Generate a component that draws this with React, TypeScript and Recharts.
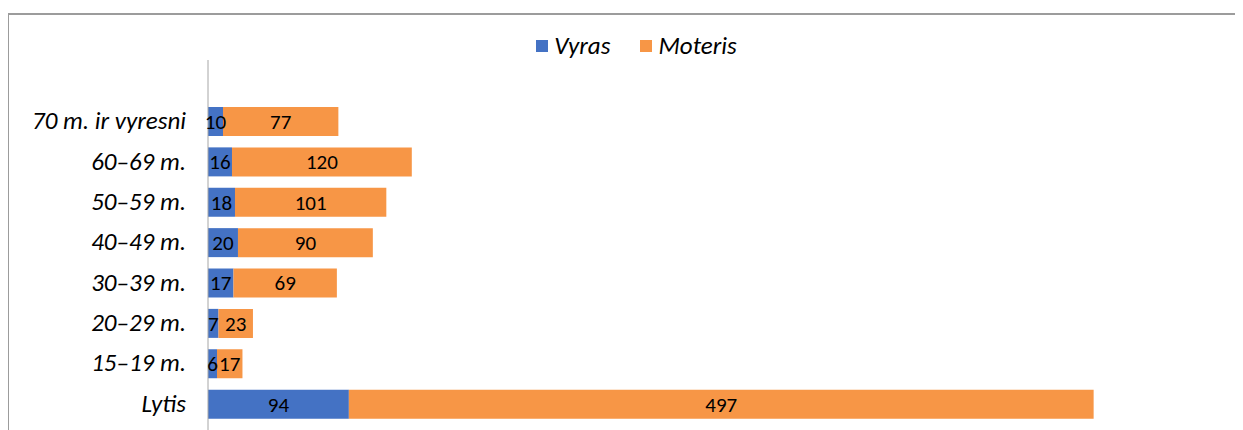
import { BarChart, Bar, XAxis, YAxis, LabelList } from 'recharts';

const categories = ['70 m. ir vyresni', '60–69 m.', '50–59 m.', '40–49 m.', '30–39 m.', '20–29 m.', '15–19 m.', 'Lytis'];
const vyras = [10, 16, 18, 20, 17, 7, 6, 94];
const moteris = [77, 120, 101, 90, 69, 23, 17, 497];

const series = [
  { key: 'vyras', name: 'Vyras', color: '#4472C4' },
  { key: 'moteris', name: 'Moteris', color: '#F79646' },
];

const data = categories.map((c, i) => ({ category: c, vyras: vyras[i], moteris: moteris[i] }));

const FONT = 'Carlito, Calibri, Lato, sans-serif';

const CategoryTick = ({ x, y, payload }: any) => (
  <text x={x - 14} y={y} dy={8} textAnchor="end" fontFamily={FONT} fontSize={25} fontStyle="italic" fill="#000">
    {payload.value}
  </text>
);

export default function App() {
  return (
    <div style={{ position: 'relative', width: 1235, height: 422, overflow: 'hidden', fontFamily: FONT }}>
      <div
        style={{
          position: 'absolute', left: -1, top: 5, width: 1250, height: 440,
          border: '2px solid #9c9c9c', boxSizing: 'border-box',
        }}
      />
      <div
        style={{
          position: 'absolute', top: 22, left: 11, width: 1235, display: 'flex',
          justifyContent: 'center', gap: 30, fontSize: 25, fontStyle: 'italic',
        }}
      >
        {series.map((s) => (
          <span key={s.key} style={{ display: 'flex', alignItems: 'center' }}>
            <span style={{ width: 12, height: 12, background: s.color, marginRight: 6, display: 'inline-block' }} />
            {s.name}
          </span>
        ))}
      </div>
      <div style={{ position: 'absolute', top: 0, left: 0 }}>
        <BarChart
          width={1235}
          height={460}
          data={data}
          layout="vertical"
          margin={{ top: 52, right: 7, bottom: 3, left: 0 }}
        >
          <XAxis type="number" domain={[0, 686]} hide />
          <YAxis
            type="category"
            dataKey="category"
            width={200}
            axisLine={{ stroke: '#a6a6a6' }}
            tickLine={false}
            padding={{ top: 41, bottom: 41 }}
            tick={<CategoryTick />}
            interval={0}
          />
          {series.map((s) => (
            <Bar key={s.key} dataKey={s.key} name={s.name} stackId="a" fill={s.color} barSize={29} isAnimationActive={false}>
              <LabelList dataKey={s.key} position="center" fill="#000" fontSize={21} fontFamily={FONT} />
            </Bar>
          ))}
        </BarChart>
      </div>
    </div>
  );
}
